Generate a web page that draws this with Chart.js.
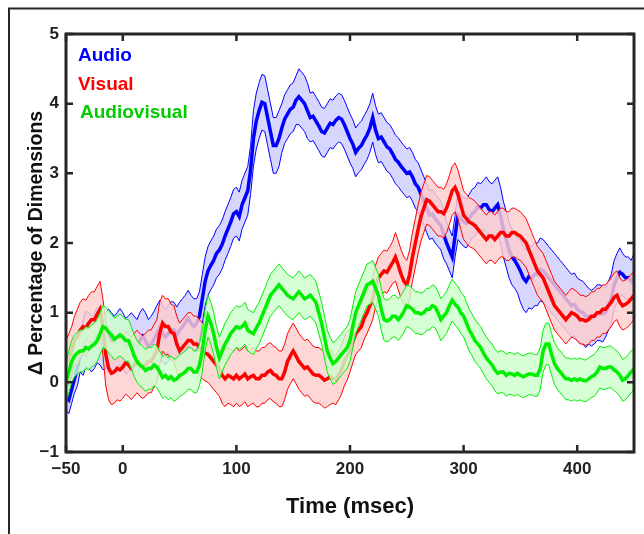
<!DOCTYPE html>
<html>
<head>
<meta charset="utf-8">
<script src="https://cdn.jsdelivr.net/npm/chart.js@4"></script>
<style>
  html, body { margin: 0; padding: 0; background: #fff; }
  canvas { display: block; }
</style>
</head>
<body>
<canvas id="chart" width="644" height="534"></canvas>
<script>
// time grid, msec (every 2.5 ms from -50 to 450)
const times = Array.from({ length: 201 }, (_, i) => -50 + i * 2.5)

const seriesNames = ['Audio', 'Visual', 'Audiovisual']

// mean traces (one value per 2.5 ms)
const audioMean = [
  -0.2, -0.25, -0.1, 0.05, 0.2, 0.4, 0.5, 0.62, 0.6, 0.55, 0.6, 0.68, 0.65, 0.58, 0.6, 0.65, 0.6, 0.55, 0.6, 0.66,
  0.6, 0.52, 0.55, 0.6, 0.55, 0.5, 0.6, 0.66, 0.6, 0.5, 0.55, 0.62, 0.7, 0.78, 0.7, 0.65, 0.7, 0.76, 0.75, 0.68,
  0.75, 0.8, 0.85, 0.92, 0.85, 0.8, 0.85, 0.95, 1.2, 1.45,
  1.6, 1.68, 1.75, 1.85, 1.9, 1.98, 2.1, 2.2, 2.3, 2.42,
  2.45, 2.38, 2.55, 2.65, 2.75, 3.05, 3.5, 3.75, 3.9, 4.02,
  4.0, 3.8, 3.6, 3.4, 3.4, 3.5, 3.65, 3.78, 3.85, 3.92,
  3.95, 4.05, 4.1, 4.05, 4.0, 3.9, 3.8, 3.82, 3.75, 3.68,
  3.6, 3.58, 3.65, 3.72, 3.7, 3.76, 3.8, 3.78, 3.7, 3.6,
  3.5, 3.42, 3.3, 3.36, 3.4, 3.48, 3.55, 3.65, 3.8, 3.62,
  3.5, 3.52, 3.45, 3.38, 3.35, 3.28, 3.2, 3.16, 3.1, 3.05,
  3.0, 3.02, 2.95, 2.85, 2.8, 2.7, 2.6, 2.5, 2.4, 2.42,
  2.35, 2.3, 2.25, 2.12, 2.0, 1.9, 1.8, 2.1, 2.4, 2.35,
  2.3, 2.28, 2.35, 2.42, 2.45, 2.52, 2.5, 2.55, 2.55, 2.48,
  2.45, 2.5, 2.55, 2.4, 2.2, 2.05, 1.9, 1.8, 1.75, 1.68,
  1.6, 1.5, 1.45, 1.52, 1.5, 1.55, 1.55, 1.62, 1.6, 1.55,
  1.5, 1.45, 1.4, 1.35, 1.3, 1.25, 1.2, 1.15, 1.1, 1.12,
  1.05, 1.02, 1.0, 0.95, 0.95, 0.92, 0.95, 1.0, 1.0, 0.98,
  1.0, 1.1, 1.2, 1.4, 1.5, 1.58, 1.55, 1.5, 1.5, 1.45,
  1.55
]
const visualMean = [
  0.25, 0.35, 0.45, 0.6, 0.65, 0.75, 0.8, 0.78, 0.85, 0.9,
  0.9, 0.98, 1.05, 0.8, 0.4, 0.2, 0.13, 0.15, 0.2, 0.18,
  0.22, 0.28, 0.25, 0.2, 0.25, 0.3, 0.25, 0.22, 0.25, 0.3,
  0.3, 0.38, 0.45, 0.7, 0.85, 0.8, 0.8, 0.72, 0.7, 0.55,
  0.45, 0.5, 0.55, 0.6, 0.6, 0.55, 0.55, 0.5, 0.45, 0.42,
  0.4, 0.35, 0.3, 0.25, 0.2, 0.1, 0.05, 0.1, 0.08, 0.05,
  0.1, 0.05, 0.08, 0.12, 0.05, 0.08, 0.1, 0.05, 0.05, 0.1,
  0.1, 0.15, 0.17, 0.12, 0.1, 0.05, 0.05, 0.15, 0.3, 0.38,
  0.45, 0.38, 0.3, 0.25, 0.2, 0.22, 0.17, 0.12, 0.1, 0.1,
  0.07, 0.03, 0.05, 0.08, 0.05, 0.03, 0.1, 0.18, 0.3, 0.38,
  0.45, 0.58, 0.7, 0.75, 0.8, 0.92, 1.0, 1.1, 1.2, 1.38,
  1.5, 1.55, 1.6, 1.58, 1.65, 1.72, 1.8, 1.68, 1.55, 1.45,
  1.4, 1.55, 1.8, 2.0, 2.2, 2.38, 2.5, 2.62, 2.6, 2.55,
  2.5, 2.45, 2.45, 2.42, 2.5, 2.62, 2.75, 2.8, 2.7, 2.55,
  2.4, 2.35, 2.3, 2.28, 2.25, 2.2, 2.15, 2.1, 2.05, 2.1,
  2.1, 2.05, 2.1, 2.15, 2.15, 2.1, 2.1, 2.15, 2.15, 2.12,
  2.1, 2.05, 2.0, 1.9, 1.8, 1.7, 1.6, 1.55, 1.5, 1.4,
  1.3, 1.2, 1.1, 1.05, 1.0, 0.95, 0.9, 0.95, 1.0, 0.98,
  0.95, 0.9, 0.9, 0.88, 0.9, 0.95, 0.95, 1.0, 1.0, 1.05,
  1.05, 1.1, 1.15, 1.22, 1.25, 1.15, 1.1, 1.12, 1.15, 1.2,
  1.25
]
const audiovisualMean = [
  0.0, 0.15, 0.3, 0.38, 0.42, 0.45, 0.45, 0.5, 0.48, 0.52,
  0.55, 0.6, 0.7, 0.8, 0.78, 0.72, 0.68, 0.62, 0.65, 0.68,
  0.65, 0.6, 0.6, 0.5, 0.38, 0.3, 0.25, 0.22, 0.17, 0.2,
  0.2, 0.25, 0.22, 0.15, 0.07, 0.1, 0.05, 0.08, 0.03, 0.05,
  0.1, 0.12, 0.15, 0.2, 0.2, 0.15, 0.15, 0.25, 0.45, 0.75,
  0.95, 0.85, 0.7, 0.5, 0.35, 0.45, 0.55, 0.62, 0.7, 0.75,
  0.8, 0.78, 0.8, 0.85, 0.75, 0.72, 0.7, 0.78, 0.85, 0.95,
  1.05, 1.15, 1.25, 1.3, 1.35, 1.4, 1.35, 1.3, 1.25, 1.22,
  1.2, 1.25, 1.3, 1.25, 1.2, 1.22, 1.25, 1.2, 1.15, 1.0,
  0.85, 0.65, 0.45, 0.35, 0.27, 0.3, 0.35, 0.4, 0.45, 0.5,
  0.6, 0.8, 1.0, 1.1, 1.2, 1.3, 1.4, 1.42, 1.45, 1.35,
  1.25, 1.05, 0.9, 0.88, 0.9, 0.95, 0.95, 0.9, 0.95, 1.02,
  1.1, 1.08, 1.05, 1.0, 1.0, 0.98, 1.0, 1.05, 1.05, 1.1,
  1.08, 1.0, 0.9, 0.95, 1.0, 1.1, 1.18, 1.12, 1.08, 1.0,
  0.95, 0.85, 0.75, 0.68, 0.6, 0.55, 0.5, 0.42, 0.35, 0.3,
  0.25, 0.18, 0.13, 0.15, 0.15, 0.1, 0.13, 0.12, 0.1, 0.13,
  0.1, 0.08, 0.1, 0.12, 0.12, 0.1, 0.1, 0.2, 0.45, 0.55,
  0.55, 0.4, 0.27, 0.2, 0.15, 0.1, 0.05, 0.05, 0.03, 0.05,
  0.03, 0.05, 0.03, 0.02, 0.05, 0.08, 0.1, 0.15, 0.22, 0.2,
  0.2, 0.22, 0.22, 0.18, 0.15, 0.1, 0.03, 0.05, 0.1, 0.15,
  0.19
]

// half-width of the shaded error bands (one value per 5 ms)
const audioErr = [
  0.2, 0.2, 0.25, 0.4, 0.4, 0.4, 0.4, 0.4, 0.4, 0.4,
  0.4, 0.4, 0.4, 0.4, 0.4, 0.4, 0.4, 0.4, 0.4, 0.4,
  0.4, 0.4, 0.4, 0.35, 0.35, 0.35, 0.35, 0.35, 0.35, 0.35,
  0.35, 0.35, 0.35, 0.4, 0.4, 0.4, 0.4, 0.4, 0.35, 0.35,
  0.35, 0.4, 0.4, 0.35, 0.35, 0.35, 0.35, 0.35, 0.35, 0.35,
  0.35, 0.35, 0.35, 0.35, 0.35, 0.35, 0.35, 0.35, 0.35, 0.35,
  0.35, 0.35, 0.35, 0.35, 0.35, 0.35, 0.35, 0.3, 0.3, 0.35,
  0.35, 0.35, 0.35, 0.35, 0.4, 0.4, 0.4, 0.4, 0.4, 0.4,
  0.45, 0.45, 0.45, 0.45, 0.45, 0.45, 0.45, 0.45, 0.45, 0.45,
  0.45, 0.45, 0.4, 0.4, 0.4, 0.35, 0.35, 0.35, 0.3, 0.3,
  0.3
]
const visualErr = [
  0.35, 0.35, 0.4, 0.4, 0.4, 0.4, 0.4, 0.45, 0.45, 0.45,
  0.45, 0.45, 0.45, 0.45, 0.45, 0.45, 0.45, 0.4, 0.4, 0.4,
  0.4, 0.4, 0.4, 0.4, 0.4, 0.4, 0.4, 0.4, 0.4, 0.4,
  0.4, 0.4, 0.4, 0.4, 0.4, 0.4, 0.4, 0.4, 0.4, 0.4,
  0.4, 0.4, 0.4, 0.4, 0.4, 0.4, 0.4, 0.35, 0.35, 0.35,
  0.3, 0.3, 0.3, 0.3, 0.3, 0.3, 0.3, 0.3, 0.35, 0.35,
  0.35, 0.35, 0.35, 0.35, 0.35, 0.35, 0.35, 0.35, 0.35, 0.35,
  0.35, 0.35, 0.35, 0.35, 0.35, 0.35, 0.35, 0.35, 0.35, 0.35,
  0.35, 0.35, 0.35, 0.35, 0.35, 0.35, 0.35, 0.35, 0.35, 0.35,
  0.35, 0.35, 0.35, 0.35, 0.35, 0.35, 0.35, 0.35, 0.35, 0.35,
  0.35
]
const audiovisualErr = [
  0.3, 0.3, 0.3, 0.3, 0.3, 0.3, 0.3, 0.3, 0.3, 0.3,
  0.3, 0.3, 0.3, 0.3, 0.3, 0.3, 0.3, 0.3, 0.3, 0.3,
  0.3, 0.3, 0.3, 0.3, 0.3, 0.3, 0.3, 0.3, 0.3, 0.3,
  0.3, 0.3, 0.3, 0.3, 0.3, 0.3, 0.3, 0.3, 0.3, 0.3,
  0.3, 0.3, 0.3, 0.3, 0.3, 0.3, 0.3, 0.3, 0.3, 0.3,
  0.3, 0.3, 0.3, 0.3, 0.3, 0.3, 0.3, 0.3, 0.3, 0.3,
  0.3, 0.3, 0.3, 0.3, 0.3, 0.3, 0.3, 0.3, 0.3, 0.3,
  0.3, 0.3, 0.3, 0.3, 0.3, 0.3, 0.3, 0.3, 0.3, 0.3,
  0.3, 0.3, 0.3, 0.3, 0.3, 0.3, 0.3, 0.3, 0.3, 0.3,
  0.3, 0.3, 0.3, 0.3, 0.3, 0.3, 0.3, 0.3, 0.3, 0.3,
  0.3
]

const xTickVals = [-50, 0, 100, 200, 300, 400]
const yTickVals = [-1, 0, 1, 2, 3, 4, 5]

const lineColors = ['#0000ff', '#ff0000', '#00ee00']
const fillColors = ['rgba(205,205,255,0.82)', 'rgba(255,205,205,0.82)', 'rgba(205,255,205,0.82)']
const textColors = ['#0000ff', '#ff0000', '#00cc00']

const FONT = "'Liberation Sans', Arial, Helvetica, sans-serif"

function pts(vals) {
  return times.map((t, i) => ({ x: t, y: vals[i] }))
}

// mean line plus the two band edges; the upper edge fills down to the lower one
function band(mean, err, idx) {
  const e = i => err[Math.floor(i / 2)]
  const up = mean.map((v, i) => v + e(i))
  const lo = mean.map((v, i) => v - e(i))
  return [
    { data: pts(mean), borderColor: lineColors[idx], borderWidth: 3.5, fill: false },
    { data: pts(lo), borderColor: lineColors[idx], borderWidth: 1, fill: false },
    { data: pts(up), borderColor: lineColors[idx], borderWidth: 1, backgroundColor: fillColors[idx], fill: '-1' }
  ]
}

// first dataset is painted last, so green goes first
const datasets = [
  ...band(audiovisualMean, audiovisualErr, 2),
  ...band(visualMean, visualErr, 1),
  ...band(audioMean, audioErr, 0)
]

const minus = v => String(v).replace('-', '\u2212')

const frame = {
  id: 'frame',
  afterDraw(chart) {
    const { ctx, chartArea: a, scales: { x, y } } = chart
    ctx.save()
    ctx.strokeStyle = '#262626'
    ctx.lineWidth = 2.5
    ctx.beginPath()
    xTickVals.forEach(v => {
      const px = x.getPixelForValue(v)
      ctx.moveTo(px, a.bottom); ctx.lineTo(px, a.bottom - 7)
      ctx.moveTo(px, a.top); ctx.lineTo(px, a.top + 7)
    })
    yTickVals.forEach(v => {
      const py = y.getPixelForValue(v)
      ctx.moveTo(a.left, py); ctx.lineTo(a.left + 7, py)
      ctx.moveTo(a.right, py); ctx.lineTo(a.right - 7, py)
    })
    ctx.stroke()
    ctx.lineWidth = 3
    ctx.strokeRect(a.left, a.top, a.right - a.left, a.bottom - a.top)

    // outer figure border
    ctx.lineWidth = 2
    ctx.beginPath()
    ctx.moveTo(9, 534); ctx.lineTo(9, 8.5); ctx.lineTo(644, 8.5)
    ctx.stroke()

    // text legend
    ctx.font = `bold 19px ${FONT}`
    ctx.textBaseline = 'alphabetic'
    ctx.textAlign = 'left'
    seriesNames.forEach((name, i) => {
      ctx.fillStyle = textColors[i]
      ctx.fillText(name, i === 2 ? 80 : 78, 61 + i * 28.5)
    })
    ctx.restore()
  }
}

new Chart(document.getElementById('chart'), {
  type: 'line',
  data: { datasets },
  options: {
    responsive: false,
    animation: false,
    devicePixelRatio: 1,
    elements: { point: { radius: 0 }, line: { tension: 0 } },
    layout: { padding: { top: 34, right: 10, left: 0, bottom: 0 } },
    plugins: { legend: { display: false }, tooltip: { enabled: false } },
    scales: {
      x: {
        type: 'linear',
        min: -50,
        max: 450,
        afterBuildTicks: s => { s.ticks = xTickVals.map(v => ({ value: v })) },
        afterFit: s => { s.height = 82 },
        grid: { display: false, drawTicks: false },
        border: { display: false },
        ticks: { color: '#222', padding: 7, font: { family: FONT, size: 17, weight: 'bold' }, callback: minus, maxRotation: 0 },
        title: { display: true, text: 'Time (msec)', color: '#111', padding: { top: 0, bottom: 14 }, font: { family: FONT, size: 22, weight: 'bold' } }
      },
      y: {
        min: -1,
        max: 5,
        afterBuildTicks: s => { s.ticks = yTickVals.map(v => ({ value: v })) },
        afterFit: s => { s.width = 66 },
        grid: { display: false, drawTicks: false },
        border: { display: false },
        ticks: { color: '#222', padding: 7, font: { family: FONT, size: 17, weight: 'bold' }, callback: minus },
        title: { display: true, text: '\u0394 Percentage of Dimensions', color: '#111', padding: { top: 25, bottom: 0 }, font: { family: FONT, size: 19.5, weight: 'bold' } }
      }
    }
  },
  plugins: [frame]
})
</script>
</body>
</html>
